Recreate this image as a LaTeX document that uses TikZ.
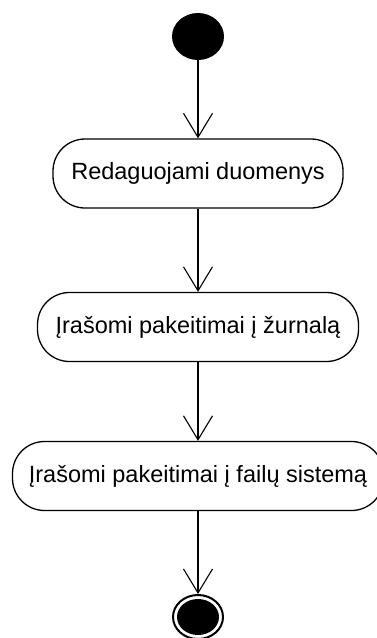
\documentclass[tikz,border=0pt]{standalone}
\usepackage{fontspec}
\setmainfont{Liberation Sans}
\usetikzlibrary{arrows.meta,shapes.geometric}
\begin{document}
\begin{tikzpicture}[x=1pt,y=-1pt,
  action/.style={draw,line width=1.3pt,rounded corners=32pt,inner sep=0pt,
    minimum height=69pt,font=\fontsize{23.5}{28}\selectfont},
  flow/.style={line width=1.1pt,-{Straight Barb[length=24pt,width=29pt,line width=1.1pt]}},
  initial/.style={ellipse,fill=black,inner sep=0pt,minimum width=52pt,minimum height=47pt},
  finalring/.style={ellipse,draw,line width=2pt,inner sep=0pt,minimum width=50pt,minimum height=44pt},
  finaldot/.style={ellipse,fill=black,inner sep=0pt,minimum width=42pt,minimum height=36pt}]
  \useasboundingbox (0,0) rectangle (377,638);
  % initial and final states
  \node[initial] (start) at (198,36.5) {};
  \node[finalring] (stop) at (198,617) {};
  \node[finaldot] (stopdot) at (198,617) {};
  % actions
  \node[action,minimum width=290pt] (edit) at (198,173.5) {Redaguojami duomenys};
  \node[action,minimum width=321pt] (journal) at (198,327) {Įrašomi pakeitimai į žurnalą};
  \node[action,minimum width=371pt] (fs) at (198,476) {Įrašomi pakeitimai į failų sistemą};
  % control flow
  \draw[flow] (start) -- (edit);
  \draw[flow] (edit) -- (journal);
  \draw[flow] (journal) -- (fs);
  \draw[flow] (fs) -- (stop);
\end{tikzpicture}
\end{document}
